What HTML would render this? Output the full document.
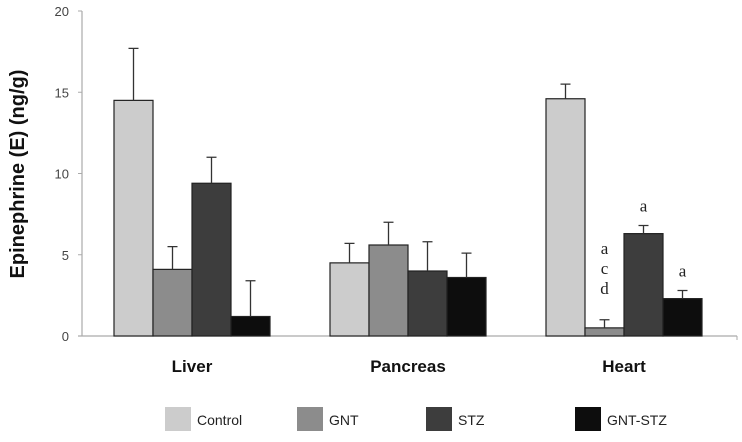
<!DOCTYPE html>
<html><head><meta charset="utf-8"><style>
body{margin:0;background:#fff;}
svg text{font-family:"Liberation Sans",sans-serif;}
svg text.serif{font-family:"Liberation Serif",serif;}
</style></head><body>
<svg id="chart" width="742" height="437" xmlns="http://www.w3.org/2000/svg">
<g id="grid"></g>
<text transform="translate(24,174) rotate(-90)" text-anchor="middle" font-size="20" font-weight="bold" fill="#111">Epinephrine (E) (ng/g)</text>
<g id="marks"></g>
<g id="legend"></g>
</svg>
<script>
const categories=["Liver","Pancreas","Heart"];
const seriesNames=["Control","GNT","STZ","GNT-STZ"];
const control=[14.5,4.5,14.6];
const gnt=[4.1,5.6,0.5];
const stz=[9.4,4.0,6.3];
const gntStz=[1.2,3.6,2.3];
const controlErr=[3.2,1.2,0.9];
const gntErr=[1.4,1.4,0.5];
const stzErr=[1.6,1.8,0.5];
const gntStzErr=[2.2,1.5,0.5];
const yTicks=[0,5,10,15,20];
const colors=["#cccccc","#8c8c8c","#3d3d3d","#0d0d0d"];
const NS="http://www.w3.org/2000/svg";
const x0=82,x1=737,yTop=11,yBot=336,yMax=20;
function y(v){return yBot-(v/yMax)*(yBot-yTop);}
const groupStart=[114,330,546],barW=39;
function bx(g,s){return groupStart[g]+s*barW;}
function mk(t,a,p){const e=document.createElementNS(NS,t);for(const k in a)e.setAttribute(k,a[k]);(p||document.getElementById('marks')).appendChild(e);return e;}
const grid=document.getElementById('grid');
let ax=mk('line',{x1:x0,y1:yTop,x2:x0,y2:yBot,stroke:'#aaa','stroke-width':1.2},grid);


let xa=mk('line',{x1:x0-4,y1:yBot,x2:x1,y2:yBot,stroke:'#aaa','stroke-width':1.2},grid);


mk('line',{x1:x1,y1:yBot,x2:x1,y2:yBot+4,stroke:'#aaa'},grid);
yTicks.forEach(t=>{
  mk('line',{x1:x0-4,y1:y(t),x2:x0,y2:y(t),stroke:'#aaa'},grid);
  const tx=mk('text',{x:69,y:y(t)+5,'text-anchor':'end','font-size':13,fill:'#444'},grid);
  tx.textContent=t;
  
  
});
const series=[control,gnt,stz,gntStz],errs=[controlErr,gntErr,stzErr,gntStzErr];
categories.forEach((c,g)=>{
  series.forEach((sv,s)=>{
    const v=sv[g],X=bx(g,s);
    const r=mk('rect',{x:X,y:y(v),width:barW,height:yBot-y(v),fill:colors[s],stroke:'#222','stroke-width':1.2});
    
    
    const cx=X+barW/2,top=y(v+errs[s][g]);
    const e=mk('path',{d:`M${cx},${y(v)}V${top}M${cx-5},${top}H${cx+5}`,stroke:'#333','stroke-width':1.3,fill:'none'});
    
    
  });
  const l=mk('text',{x:bx(g,2),y:372,'text-anchor':'middle','font-size':17,'font-weight':'bold',fill:'#111'});
  l.textContent=c;
  
  
});
const heart=2;
["a","c","d"].forEach((t,i)=>{
  const e=mk('text',{x:bx(heart,1)+barW/2,y:y(gnt[heart]+gntErr[heart])+(i-2)*20-26,'text-anchor':'middle','font-size':17,fill:'#222',class:'serif'});
  e.textContent=t;
  
  
});
[[2,stz,stzErr],[3,gntStz,gntStzErr]].forEach(([s,arr,er])=>{
  const e=mk('text',{x:bx(heart,s)+barW/2,y:y(arr[heart]+er[heart])-14,'text-anchor':'middle','font-size':17,fill:'#222',class:'serif'});
  e.textContent='a';
  
  
});
const lg=document.getElementById('legend');
const lx=[165,297,426,575];
seriesNames.forEach((n,i)=>{
  const r=mk('rect',{x:lx[i],y:407,width:26,height:24,fill:colors[i]},lg);
  
  
  const t=mk('text',{x:lx[i]+32,y:425,'font-size':14,fill:'#222'},lg);
  t.textContent=n;
  
  
});
</script>
</body></html>
